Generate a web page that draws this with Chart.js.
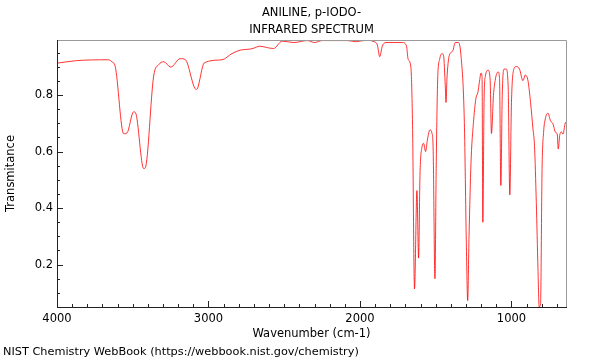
<!DOCTYPE html>
<html>
<head>
<meta charset="utf-8">
<script src="https://cdn.jsdelivr.net/npm/chart.js@4.4.1/dist/chart.umd.min.js"></script>
<style>
  html, body { margin: 0; padding: 0; background: #fff; }
  #wrap { width: 600px; height: 360px; }
</style>
</head>
<body>
<div id="wrap"><canvas id="ir"></canvas></div>
<script>
const wavenumbers = [
  4000, 3870, 3660, 3638, 3616, 3560, 3538, 3494, 3481, 3428, 3417, 3362, 3328, 3295,
  3249, 3187, 3154, 3081, 3073, 3028, 2911, 2845, 2790, 2713, 2662, 2603, 2570, 2514,
  2437, 2348, 2300, 2249, 2083, 2028, 1962, 1907, 1885, 1870, 1852, 1830, 1719, 1693,
  1682, 1664, 1653, 1640, 1624, 1613, 1604, 1591, 1580, 1567, 1554, 1538, 1525, 1517,
  1505, 1497, 1487, 1474, 1459, 1448, 1437, 1432, 1426, 1411, 1388, 1371, 1351, 1333,
  1311, 1298, 1289, 1280, 1267, 1249, 1234, 1222, 1212, 1201, 1194, 1189, 1181, 1172,
  1154, 1141, 1132, 1119, 1106, 1088, 1079, 1070, 1061, 1048, 1035, 1022, 1011, 1000,
  987, 969, 947, 924, 909, 891, 874, 858, 848, 836, 825, 817, 808, 798,
  788, 777, 759, 742, 726, 709, 698, 691, 682, 671, 660, 645, 640
];
const transmitance = [
  0.913, 0.922, 0.925, 0.918, 0.902, 0.663, 0.666, 0.741, 0.737, 0.540, 0.543, 0.867, 0.908, 0.918,
  0.899, 0.929, 0.926, 0.820, 0.823, 0.914, 0.925, 0.947, 0.959, 0.964, 0.973, 0.967, 0.965, 0.991,
  0.986, 0.993, 0.986, 0.993, 0.993, 0.989, 0.994, 0.989, 0.977, 0.936, 0.974, 0.986, 0.986, 0.974,
  0.927, 0.898, 0.692, 0.114, 0.462, 0.223, 0.515, 0.615, 0.629, 0.600, 0.645, 0.677, 0.666, 0.609,
  0.150, 0.539, 0.857, 0.927, 0.947, 0.939, 0.833, 0.774, 0.857, 0.939, 0.956, 0.986, 0.986, 0.939,
  0.703, 0.279, 0.073, 0.303, 0.562, 0.715, 0.790, 0.809, 0.845, 0.878, 0.862, 0.350, 0.774, 0.868,
  0.888, 0.857, 0.664, 0.798, 0.857, 0.882, 0.862, 0.480, 0.798, 0.892, 0.892, 0.833, 0.447, 0.774,
  0.886, 0.901, 0.892, 0.851, 0.871, 0.851, 0.774, 0.680, 0.621, 0.420, 0.185, 0.050, 0.060, 0.539,
  0.668, 0.715, 0.736, 0.709, 0.698, 0.668, 0.662, 0.609, 0.656, 0.670, 0.662, 0.701, 0.705
];
const xTicks = [1000, 2000, 3000, 4000];
const yTicks = [0.2, 0.4, 0.6, 0.8];
const xMinor = [700, 800, 900, 1100, 1200, 1300, 1400, 1500, 1600, 1700, 1800, 1900,
  2100, 2200, 2300, 2400, 2500, 2600, 2700, 2800, 2900, 3100, 3200, 3300, 3400, 3500,
  3600, 3700, 3800, 3900];
const yMinor = [0.05, 0.1, 0.15, 0.25, 0.3, 0.35, 0.45, 0.5, 0.55, 0.65, 0.7, 0.75, 0.85, 0.9, 0.95];
const titleLines = ['ANILINE, p-IODO-', 'INFRARED SPECTRUM'];
const footer = 'NIST Chemistry WebBook (https://webbook.nist.gov/chemistry)';

const FONT_SIZE = 11.5;
const FONT = FONT_SIZE + 'px "DejaVu Sans"';

// Frame, inward ticks, title and footer
const framePlugin = {
  id: 'frame',
  afterDraw(chart) {
    const { ctx, chartArea: a, scales: { x, y } } = chart;
    ctx.save();
    ctx.lineWidth = 1;

    // gray top/right, dark left/bottom
    ctx.strokeStyle = '#9a9a9a';
    ctx.beginPath();
    ctx.moveTo(a.left, a.top + 0.5); ctx.lineTo(a.right + 0.5, a.top + 0.5);
    ctx.lineTo(a.right + 0.5, a.bottom);
    ctx.stroke();
    ctx.strokeStyle = '#222';
    ctx.beginPath();
    ctx.moveTo(a.left + 0.5, a.top); ctx.lineTo(a.left + 0.5, a.bottom + 0.5);
    ctx.lineTo(a.right + 1, a.bottom + 0.5);
    ctx.stroke();

    // ticks pointing into the plot
    ctx.beginPath();
    xTicks.forEach(v => { const px = Math.round(x.getPixelForValue(v)) + 0.5; ctx.moveTo(px, a.bottom); ctx.lineTo(px, a.bottom - 6); });
    xMinor.forEach(v => { const px = Math.round(x.getPixelForValue(v)) + 0.5; ctx.moveTo(px, a.bottom); ctx.lineTo(px, a.bottom - 3); });
    yTicks.forEach(v => { const py = Math.round(y.getPixelForValue(v)) + 0.5; ctx.moveTo(a.left, py); ctx.lineTo(a.left + 6, py); });
    yMinor.forEach(v => { const py = Math.round(y.getPixelForValue(v)) + 0.5; ctx.moveTo(a.left, py); ctx.lineTo(a.left + 3, py); });
    ctx.stroke();

    // title + footer
    ctx.fillStyle = '#000';
    ctx.font = FONT;
    ctx.textBaseline = 'middle';
    ctx.textAlign = 'center';
    const cx = (a.left + a.right) / 2;
    ctx.fillText(titleLines[0], cx, 13);
    ctx.fillText(titleLines[1], cx, 30);
    ctx.textAlign = 'left';
    ctx.font = '11.3px "DejaVu Sans"';
    ctx.fillText(footer, 3, 352);
    ctx.restore();
  }
};

const tickFont = { family: 'DejaVu Sans', size: FONT_SIZE };

new Chart(document.getElementById('ir'), {
  type: 'line',
  data: {
    datasets: [{
      data: wavenumbers.map((w, i) => ({ x: w, y: transmitance[i] })),
      borderColor: 'rgba(255,0,0,0.8)',
      borderWidth: 1,
      pointRadius: 0,
      cubicInterpolationMode: 'monotone',
      fill: false
    }]
  },
  options: {
    responsive: true,
    maintainAspectRatio: false,
    animation: false,
    layout: { padding: { left: 0, top: 40, right: 34, bottom: 18 } },
    plugins: { legend: { display: false }, tooltip: { enabled: false } },
    scales: {
      x: {
        type: 'linear',
        reverse: true,
        min: 640,
        max: 4000,
        grid: { display: false, drawTicks: false },
        border: { display: false },
        afterBuildTicks: s => { s.ticks = xTicks.map(v => ({ value: v })); },
        afterFit: s => { s.height = 35; },
        ticks: { color: '#000', font: tickFont, padding: 5, maxRotation: 0,
                 callback: v => String(v) },
        title: { display: true, text: 'Wavenumber (cm-1)', color: '#000',
                 font: tickFont, padding: { top: 0, bottom: 1 } }
      },
      y: {
        min: 0.05,
        max: 0.995,
        grid: { display: false, drawTicks: false },
        border: { display: false },
        afterBuildTicks: s => { s.ticks = yTicks.map(v => ({ value: v })); },
        afterFit: s => { s.width = 57; },
        ticks: { color: '#000', font: tickFont, padding: 4,
                 callback: v => v.toFixed(1) },
        title: { display: true, text: 'Transmitance', color: '#000',
                 font: tickFont, padding: { top: 4, bottom: 0 } }
      }
    }
  },
  plugins: [framePlugin]
});
</script>
</body>
</html>
